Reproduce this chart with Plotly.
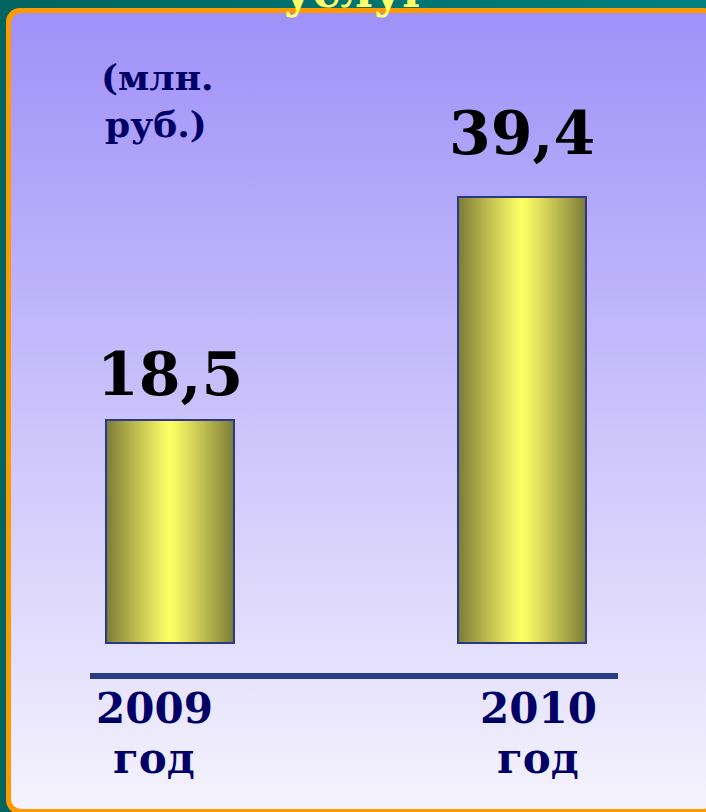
import base64
import plotly.graph_objects as go

# ---------------- data ----------------
YEARS = ["2009", "2010"]
VALUES = [18.5, 39.4]
YEAR_SUFFIX = "год"
UNIT_LINES = ["(млн.", "руб.)"]
TITLE_TEXT = "услуг"

# ---------------- styling ----------------
W, H = 706, 812
BASE = -2.3
BAR_W = 0.3636
X_RANGE = [-0.4830, 1.5227]
Y_RANGE = [-18.11, 57.78]
FONT = "DejaVu Serif"
NAVY = "#000066"
BAR_EDGE = "#2B3A85"
LIGHT = (255, 255, 102)
DARK = (124, 122, 56)
N_STRIPS = 64


def py(px):
    """pixel from top -> paper y"""
    return 1 - px / H


def px_x(px):
    return px / W


def mix(a, b, t):
    return "rgb(%d,%d,%d)" % tuple(round(a[k] + (b[k] - a[k]) * t) for k in range(3))


svg = f'''<svg xmlns="http://www.w3.org/2000/svg" width="{W}" height="{H}" viewBox="0 0 {W} {H}">
<defs>
<linearGradient id="teal" x1="0" y1="0" x2="1" y2="0"><stop offset="0" stop-color="#00655E"/><stop offset="1" stop-color="#008080"/></linearGradient>
<linearGradient id="bg" x1="0" y1="0" x2="0" y2="1"><stop offset="0" stop-color="#A091F8"/><stop offset="1" stop-color="#F5F3FD"/></linearGradient>
</defs>
<rect width="{W}" height="{H}" fill="url(#teal)"/>
<rect x="6" y="8" width="712" height="806" rx="14" ry="14" fill="#FF9900"/>
<rect x="11" y="13" width="702" height="796" rx="10" ry="10" fill="url(#bg)"/>
</svg>'''
bg_uri = "data:image/svg+xml;base64," + base64.b64encode(svg.encode("utf-8")).decode("ascii")

fig = go.Figure()

lengths = [v - BASE for v in VALUES]
sw = BAR_W / N_STRIPS
for i in range(N_STRIPS):
    t = (i + 0.5) / N_STRIPS
    d = abs(t - 0.5) * 2
    fig.add_bar(
        x=YEARS, y=lengths, base=BASE, width=sw, offset=-BAR_W / 2 + i * sw,
        marker=dict(color=mix(LIGHT, DARK, d ** 1.1), line=dict(width=0)),
        hoverinfo="skip", showlegend=False,
    )

fig.add_bar(
    x=YEARS, y=lengths, base=BASE, width=BAR_W, offset=-BAR_W / 2,
    marker=dict(color="rgba(0,0,0,0)", line=dict(color=BAR_EDGE, width=2)),
    hoverinfo="skip", showlegend=False,
)

annotations = []
value_shifts = [9, 27]
for i, v in enumerate(VALUES):
    annotations.append(dict(
        x=i, y=v, xref="x", yref="y", yanchor="bottom", xanchor="center",
        yshift=value_shifts[i], showarrow=False,
        text=f"{v:.1f}".replace(".", ","),
        font=dict(family=FONT, size=60, color="#000000", weight="bold"),
    ))

year_shifts = [-16, 16]
for i, yr in enumerate(YEARS):
    annotations.append(dict(
        x=i, y=py(708.5), xref="x", yref="paper", yanchor="middle", xanchor="center",
        xshift=year_shifts[i], showarrow=False, text=yr,
        font=dict(family=FONT, size=42, color=NAVY, weight="bold"),
    ))
    annotations.append(dict(
        x=i, y=py(758.5), xref="x", yref="paper", yanchor="middle", xanchor="center",
        xshift=year_shifts[i], showarrow=False, text=YEAR_SUFFIX,
        font=dict(family=FONT, size=42, color=NAVY, weight="bold"),
    ))

for txt, cx, cy in zip(UNIT_LINES, [157, 156], [76.6, 124]):
    annotations.append(dict(
        x=px_x(cx), y=py(cy), xref="paper", yref="paper", yanchor="middle", xanchor="center",
        showarrow=False, text=txt,
        font=dict(family=FONT, size=36, color=NAVY, weight="bold"),
    ))

annotations.append(dict(
    x=px_x(357), y=py(-9), xref="paper", yref="paper", yanchor="middle", xanchor="center",
    showarrow=False, text=TITLE_TEXT,
    font=dict(family=FONT, size=46, color="#FFFF66", weight="bold"),
))

fig.update_layout(
    width=W, height=H, margin=dict(l=0, r=0, t=0, b=0, pad=0),
    paper_bgcolor="rgba(0,0,0,0)", plot_bgcolor="rgba(0,0,0,0)",
    barmode="overlay", bargap=0, showlegend=False,
    xaxis=dict(range=X_RANGE, visible=False, fixedrange=True, type="category"),
    yaxis=dict(range=Y_RANGE, visible=False, fixedrange=True),
    images=[dict(source=bg_uri, xref="paper", yref="paper", x=0, y=1, sizex=1, sizey=1,
                 xanchor="left", yanchor="top", sizing="stretch", layer="below")],
    shapes=[dict(type="line", xref="paper", yref="paper", x0=px_x(90), x1=px_x(618),
                 y0=py(676), y1=py(676), line=dict(color="#283C84", width=6))],
    annotations=annotations,
)

fig.write_html(
    "out.html",
    config={"displayModeBar": False},
    post_script="document.body.style.margin='0';document.body.style.overflow='hidden';",
)
